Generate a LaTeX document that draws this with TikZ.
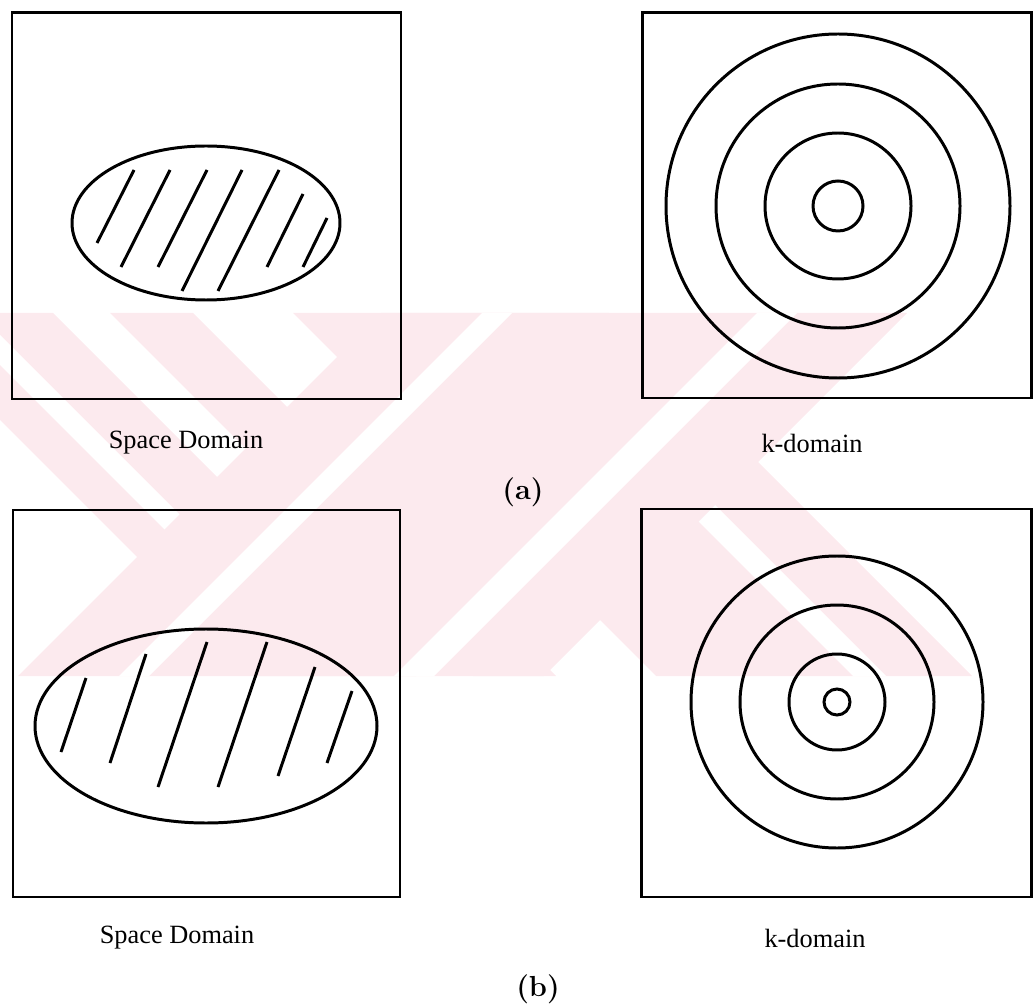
\documentclass[tikz,border=0pt]{standalone}
\usepackage{fontspec}
\usepackage{tikz}
\newfontfamily\timesfont{Liberation Serif}
\definecolor{wmPink}{RGB}{252, 234, 238}

\begin{document}
\begin{tikzpicture}[x=0.02cm, y=-0.02cm, line width=1.7pt,
    lbl/.style={font=\timesfont\fontsize{15}{17}\selectfont, inner sep=0pt},
    sub/.style={font=\fontsize{16.5}{19}\selectfont\bfseries, inner sep=0pt}]
    \useasboundingbox (0,0) rectangle (1034,1006);
    % faint watermark behind the figure
    \begin{scope}
      \clip (0,313) rectangle (1034,676);
      \fill[wmPink] (-107,313) -- (53,313) -- (416,676) -- (256,676) -- cycle;
      \fill[white] (-52,313) -- (-22,313) -- (341,676) -- (311,676) -- cycle;
      \fill[wmPink] (110,313) -- (193,313) -- (556,676) -- (473,676) -- cycle;
      \fill[wmPink] (293,313) -- (609,313) -- (972,676) -- (656,676) -- cycle;
      \fill[white] (490,313) -- (523,313) -- (886,676) -- (853,676) -- cycle;
      \fill[wmPink] (381,313) -- (907,313) -- (544,676) -- (18,676) -- cycle;
      \fill[white] (482,313) -- (512,313) -- (149,676) -- (119,676) -- cycle;
      \fill[white] (757,313) -- (797,313) -- (434,676) -- (394,676) -- cycle;
    \end{scope}
    % (a) space domain
    \draw (12,13) rectangle (401,399);
    \draw (206,223) ellipse (134 and 77);
    \draw (97,243) -- (134,170);
    \draw (121,267) -- (170,170);
    \draw (158,267) -- (207,170);
    \draw (182,291) -- (242,170);
    \draw (218,291) -- (279,170);
    \draw (267,267) -- (303,194);
    \draw (303,267) -- (327,218);
    % (a) k-domain
    \draw (642,13) rectangle (1031,398);
    \foreach \r in {172,122,73,25}
      \draw (838,206) circle (\r);
    \node[lbl] (spaceA) at (186,443) {Space Domain};
    \node[lbl] (kA) at (812,443) {k-domain};
    \node[sub] (partA) at (523,492) {(a)};
    % (b) space domain
    \draw (13,510) rectangle (400,897);
    \draw (206,726) ellipse (171 and 97);
    \draw (61,752) -- (86,678);
    \draw (110,763) -- (146,654);
    \draw (158,787) -- (207,642);
    \draw (218,787) -- (267,642);
    \draw (278,776) -- (315,667);
    \draw (327,763) -- (352,691);
    % (b) k-domain
    \draw (641,509) rectangle (1031,897);
    \foreach \r in {146,97,48,13}
      \draw (837,702) circle (\r);
    \node[lbl] (spaceB) at (177,938) {Space Domain};
    \node[lbl] (kB) at (815,938) {k-domain};
    \node[sub] (partB) at (538,989) {(b)};
  \end{tikzpicture}
\end{document}
